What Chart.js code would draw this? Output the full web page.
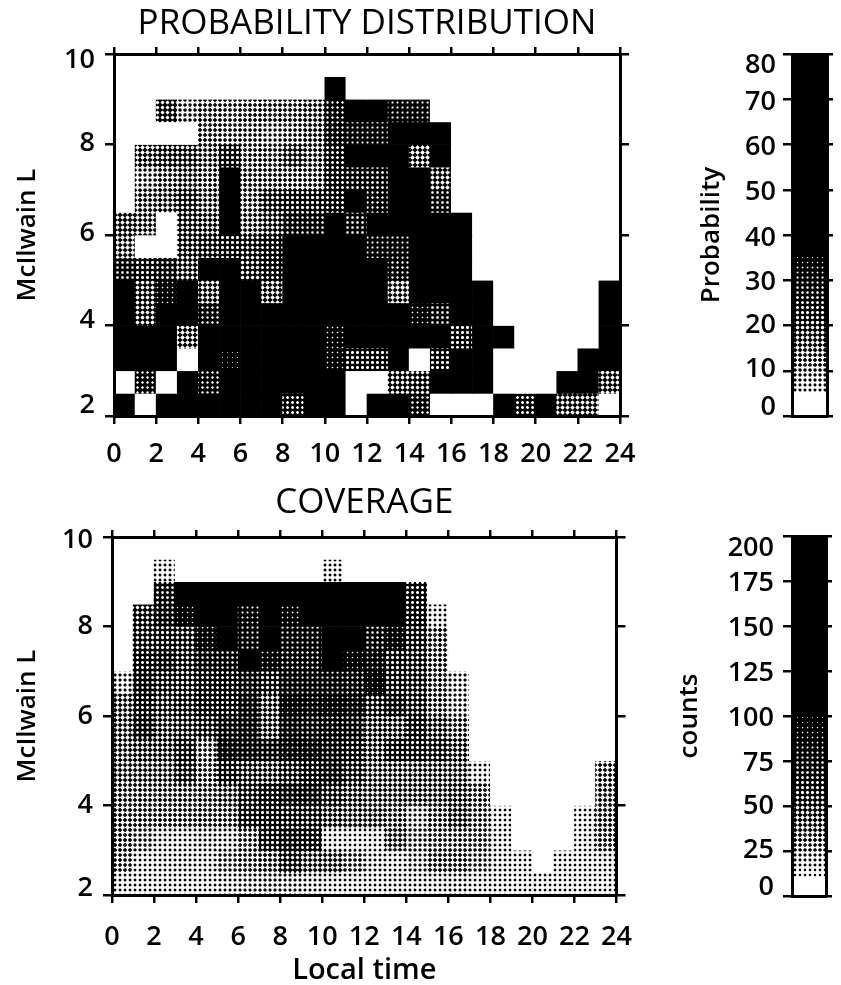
<!DOCTYPE html>
<html><head><meta charset="utf-8">
<style>
html,body{margin:0;padding:0;background:#fff;width:841px;height:985px;overflow:hidden}
canvas{position:absolute;display:block;filter:blur(0.45px)}
</style>
<script src="https://cdn.jsdelivr.net/npm/chart.js@4/dist/chart.umd.min.js"></script>
</head><body>
<canvas id="probMap" width="650" height="470" style="left:0;top:0"></canvas>
<canvas id="probBar" width="151" height="470" style="left:690px;top:0"></canvas>
<canvas id="covMap" width="650" height="505" style="left:0;top:480px"></canvas>
<canvas id="covBar" width="171" height="505" style="left:670px;top:480px"></canvas>
<script>
// Bins
const hourCentres = [0.5,1.5,2.5,3.5,4.5,5.5,6.5,7.5,8.5,9.5,10.5,11.5,12.5,13.5,14.5,15.5,16.5,17.5,18.5,19.5,20.5,21.5,22.5,23.5];
const lBinBottoms = [9.5,9,8.5,8,7.5,7,6.5,6,5.5,5,4.5,4,3.5,3,2.5,2]; // top row first
const lBinSize = 0.5;

// Probability (%) per L row (top row first), per local-time hour
const probabilityRows = [
 [0,0,0,0,0,0,0,0,0,0,0,0,0,0,0,0,0,0,0,0,0,0,0,0],
 [0,0,0,0,0,0,0,0,0,0,40,0,0,0,0,0,0,0,0,0,0,0,0,0],
 [0,0,20,9,12,10,11,12,12,13,28,40,40,30,30,0,0,0,0,0,0,0,0,0],
 [0,0,0,0,12,10,10,8,10,13,28,30,30,40,40,50,0,0,0,0,0,0,0,0],
 [0,15,18,17,13,22,11,12,17,13,24,40,40,40,15,40,0,0,0,0,0,0,0,0],
 [0,8,12,14,11,38,12,12,11,12,24,25,25,40,40,16,0,0,0,0,0,0,0,0],
 [0,13,14,19,13,38,12,20,22,21,24,35,28,40,40,26,0,0,0,0,0,0,0,0],
 [16,14,0,17,15,38,13,16,27,27,35,26,40,40,40,40,40,0,0,0,0,0,0,0],
 [14,0,0,18,20,22,20,24,40,40,40,40,30,30,40,40,40,0,0,0,0,0,0,0],
 [26,22,25,16,40,35,19,24,38,40,40,40,40,28,40,40,40,0,0,0,0,0,0,0],
 [40,17,32,40,15,40,38,15,40,40,40,40,40,14,36,40,40,40,0,0,0,0,0,40],
 [40,17,40,40,28,40,40,40,40,36,40,40,40,40,32,26,40,40,0,0,0,0,0,40],
 [40,40,40,15,40,40,40,40,40,40,32,40,40,40,40,40,22,40,40,0,0,0,0,40],
 [36,36,40,0,40,34,38,40,40,40,32,22,22,40,0,22,40,40,0,0,0,0,40,36],
 [0,28,0,38,28,40,40,40,40,40,40,0,0,18,20,40,40,36,0,0,0,40,40,16],
 [40,0,36,40,40,40,40,40,24,40,40,0,40,40,28,0,0,0,40,24,40,16,16,0]
];

// Coverage (counts) per L row (top row first), per local-time hour
const coverageRows = [
 [0,0,0,0,0,0,0,0,0,0,0,0,0,0,0,0,0,0,0,0,0,0,0,0],
 [0,0,15,0,0,0,0,0,0,0,15,0,0,0,0,0,0,0,0,0,0,0,0,0],
 [0,0,65,110,110,110,110,110,110,110,110,110,110,110,60,0,0,0,0,0,0,0,0,0],
 [0,50,70,90,110,110,80,110,85,100,110,110,110,100,60,15,0,0,0,0,0,0,0,0],
 [0,50,55,50,85,100,75,110,75,75,110,100,70,85,55,30,0,0,0,0,0,0,0,0],
 [0,60,65,50,70,70,110,85,72,72,105,90,80,55,50,30,0,0,0,0,0,0,0,0],
 [18,65,50,48,62,62,70,55,75,75,75,72,90,55,50,30,18,0,0,0,0,0,0,0],
 [38,60,45,50,62,60,75,42,85,80,85,80,50,65,50,30,20,0,0,0,0,0,0,0],
 [38,65,42,45,50,70,75,42,75,70,72,68,42,40,60,42,32,0,0,0,0,0,0,0],
 [38,42,42,55,25,80,75,68,80,80,70,60,40,58,55,50,40,0,0,0,0,0,0,0],
 [35,35,35,50,28,58,45,42,50,62,70,50,35,38,38,38,35,15,0,0,0,0,0,30],
 [32,32,32,32,32,35,50,62,70,70,50,40,35,38,38,38,40,28,0,0,0,0,0,32],
 [30,30,28,30,30,30,55,58,52,50,40,38,38,32,18,28,42,25,13,0,0,0,13,32],
 [28,22,15,15,17,16,25,55,65,60,12,13,13,35,22,26,25,26,14,0,0,0,13,28],
 [25,14,15,16,15,22,25,32,50,38,36,24,16,14,18,30,30,22,15,12,0,13,13,14],
 [14,14,14,14,14,16,18,20,18,16,14,14,14,15,15,15,16,14,14,13,13,13,13,13]
];

// Colour bars
const probTicks = [0,10,20,30,40,50,60,70,80];
const countTicks = [0,25,50,75,100,125,150,175,200];
const probBarEdges = [0,5,7,9,11,13,15,17,19,21,23,25,27,29,31,33,35,80];
const countBarEdges = [0,10,15,20,25,30,35,40,45,50,55,60,65,70,75,80,85,90,95,100,200];

// Grey ramps (value -> ink coverage)
const probRamp = [[0,0],[4.99,0],[5,0.28],[10,0.4],[15,0.55],[20,0.66],[30,0.86],[35,1],[80,1]];
const countRamp = [[0,0],[9.99,0],[10,0.2],[25,0.4],[50,0.65],[75,0.84],[100,1],[200,1]];

const INK = (ramp, v) => {
  for (let i = 1; i < ramp.length; i++) {
    if (v <= ramp[i][0]) {
      const a = ramp[i-1], b = ramp[i];
      return a[1] + (b[1]-a[1]) * (v-a[0]) / (b[0]-a[0]);
    }
  }
  return 1;
};

// Halftone tiles: a 45-degree dot screen built as canvas patterns
const PERIOD = 5, SUB = 4;
const patternCache = {};
function halftone(level) {
  const key = Math.round(level * 64);
  if (patternCache[key]) return patternCache[key];
  const tile = document.createElement('canvas');
  tile.width = tile.height = PERIOD;
  const c = tile.getContext('2d');
  const spot = (x, y) => Math.cos(2*Math.PI*x/PERIOD) + Math.cos(2*Math.PI*y/PERIOD);
  const samples = [];
  for (let y = 0; y < PERIOD*SUB; y++) for (let x = 0; x < PERIOD*SUB; x++)
    samples.push(spot((x+.5)/SUB, (y+.5)/SUB));
  samples.sort((a,b) => b-a);
  const idx = Math.min(samples.length-1, Math.round(key/64*samples.length));
  const thr = key >= 64 ? -Infinity : key <= 0 ? Infinity : samples[idx];
  for (let y = 0; y < PERIOD; y++) for (let x = 0; x < PERIOD; x++) {
    let n = 0;
    for (let j = 0; j < SUB; j++) for (let i = 0; i < SUB; i++)
      if (spot(x+(i+.5)/SUB, y+(j+.5)/SUB) > thr) n++;
    const g = Math.round(255*(1-n/(SUB*SUB)));
    c.fillStyle = `rgb(${g},${g},${g})`;
    c.fillRect(x,y,1,1);
  }
  const p = c.createPattern(tile, 'repeat');
  patternCache[key] = p;
  return p;
}

const tickFont = {family:'"Open Sans"', size:27, weight:'600'};
const labelFont = {family:'"Open Sans"', size:26, weight:'600'};
const timeFont = {family:'"Open Sans"', size:29, weight:'600', lineHeight:1};
const titleFont = {family:'"Open Sans"', size:35, weight:'400'};

const fixWidth = w => s => { s.width = w; };
const fixHeight = h => s => { s.height = h; };

const frame = (tickLength, tickWidth) => ({
  border:{display:true,width:3,color:'#000',z:2},
  grid:{drawOnChartArea:false,drawTicks:true,tickLength,lineWidth:tickWidth,color:'#000',z:2,offset:false}
});

// Labels in the reference sit a little off their ticks, most at the two ends.
// A blank extra line moves a label by half the line height.
const nudgedTicks = (nudge, padding, stepSize) => ({
  stepSize, padding, color:'#000', autoSkip:false,
  callback: v => {
    const d = nudge[v] || 0, s = String(v);
    return d === 0 ? s : d > 0 ? ['', s] : [s, ''];
  },
  font: ctx => {
    const d = ctx.tick ? Math.abs(nudge[ctx.tick.value] || 0) : 0;
    return d ? {...tickFont, lineHeight: (2*d) + 'px'} : tickFont;
  }
});

function heatmap(id, rows, ramp, o) {
  const datasets = rows.map((row, r) => ({
    data: row.map((v, h) => ({x: hourCentres[h], y: [lBinBottoms[r], lBinBottoms[r]+lBinSize]})),
    backgroundColor: row.map(v => halftone(INK(ramp, v))),
    borderWidth: 0, grouped:false, barPercentage:1, categoryPercentage:1
  }));
  new Chart(document.getElementById(id), {
    type:'bar',
    data:{datasets},
    options:{
      responsive:false, animation:false, events:[],
      layout:{padding:0},
      plugins:{legend:{display:false},tooltip:{enabled:false}},
      scales:{
        x:{type:'linear',position:'bottom',offset:false,min:0,max:24,...frame(8,2.5),
           ticks:{stepSize:2,autoSkip:false,maxRotation:0,color:'#000',font:tickFont,padding:o.xPad,includeBounds:true},
           title:{display:!!o.xTitle,text:o.xTitle||'',color:'#000',font:timeFont,padding:{top:0,bottom:o.xTitlePad||0}},
           afterFit:fixHeight(o.bottom)},
        x2:{type:'linear',axis:'x',position:'top',offset:false,min:0,max:24,...frame(7,2.5),
           ticks:{stepSize:2,display:false},
           title:{display:true,text:o.title,color:'#000',font:titleFont,padding:{top:o.titleTop,bottom:0}},
           afterFit:fixHeight(o.top)},
        y:{type:'linear',position:'left',min:2,max:10,...frame(9,2.5),
           ticks:nudgedTicks(o.nudge,o.yPad,2),
           title:{display:true,text:'McIlwain L',color:'#000',font:labelFont,padding:{top:o.yTitleLeft,bottom:0}},
           afterFit:fixWidth(o.left)},
        y2:{type:'linear',axis:'y',position:'right',min:2,max:10,...frame(9,2.5),
           ticks:{stepSize:2,display:false},
           afterFit:fixWidth(o.right)}
      }
    }
  });
}

function colorBar(id, edges, ticks, ramp, o) {
  const datasets = edges.slice(0,-1).map((e,i) => ({
    data:[{x:0.5,y:[e,edges[i+1]]}],
    backgroundColor:[halftone(INK(ramp, e))],
    borderWidth:0, grouped:false, barPercentage:1, categoryPercentage:1
  }));
  const step = ticks[1]-ticks[0], max = ticks[ticks.length-1];
  new Chart(document.getElementById(id), {
    type:'bar',
    data:{datasets},
    options:{
      responsive:false, animation:false, events:[],
      layout:{padding:0},
      plugins:{legend:{display:false},tooltip:{enabled:false}},
      scales:{
        x:{type:'linear',position:'bottom',offset:false,min:0,max:1,
           border:{display:true,width:3,color:'#000',z:2},
           grid:{display:false,offset:false},ticks:{display:false,stepSize:1},
           afterFit:fixHeight(o.bottom)},
        x2:{type:'linear',axis:'x',position:'top',offset:false,min:0,max:1,
           border:{display:true,width:3,color:'#000',z:2},
           grid:{display:false,offset:false},ticks:{display:false,stepSize:1},
           afterFit:fixHeight(o.top)},
        y:{type:'linear',position:'left',min:0,max,...frame(9,2.5),
           ticks:nudgedTicks(o.nudge,o.yPad,step),
           title:{display:true,text:o.label,color:'#000',font:labelFont,padding:{top:o.labelLeft,bottom:0}},
           afterFit:fixWidth(o.left)},
        y2:{type:'linear',axis:'y',position:'right',min:0,max,...frame(6,2.5),
           ticks:{stepSize:step,display:false},
           afterFit:fixWidth(o.right)}
      }
    }
  });
}

heatmap('probMap', probabilityRows, probRamp,
  {title:'PROBABILITY DISTRIBUTION',titleTop:3,left:114,right:30,top:54,bottom:54,xPad:14,yPad:10,yTitleLeft:12,
   nudge:{2:-11,4:-5,6:-2,8:-1,10:6}});
heatmap('covMap', coverageRows, countRamp,
  {title:'COVERAGE',titleTop:2,xTitle:'Local time',xTitlePad:0,left:112,right:31,top:57,bottom:90,xPad:18,yPad:10,yTitleLeft:12,
   nudge:{2:-7,10:3}});
colorBar('probBar', probBarEdges, probTicks, probRamp,
  {label:'Probability',labelLeft:6,left:102,right:14,top:54,bottom:54,yPad:7,
   nudge:{0:-9,10:-1,30:2,40:3,50:3,60:3,70:3,80:11}});
colorBar('covBar', countBarEdges, countTicks, countRamp,
  {label:'counts',labelLeft:4,left:122,right:15,top:56,bottom:89,yPad:9,
   nudge:{0:-9,25:-1,75:2,100:2,125:2,150:2,175:2,200:12}});
</script>
</body></html>
